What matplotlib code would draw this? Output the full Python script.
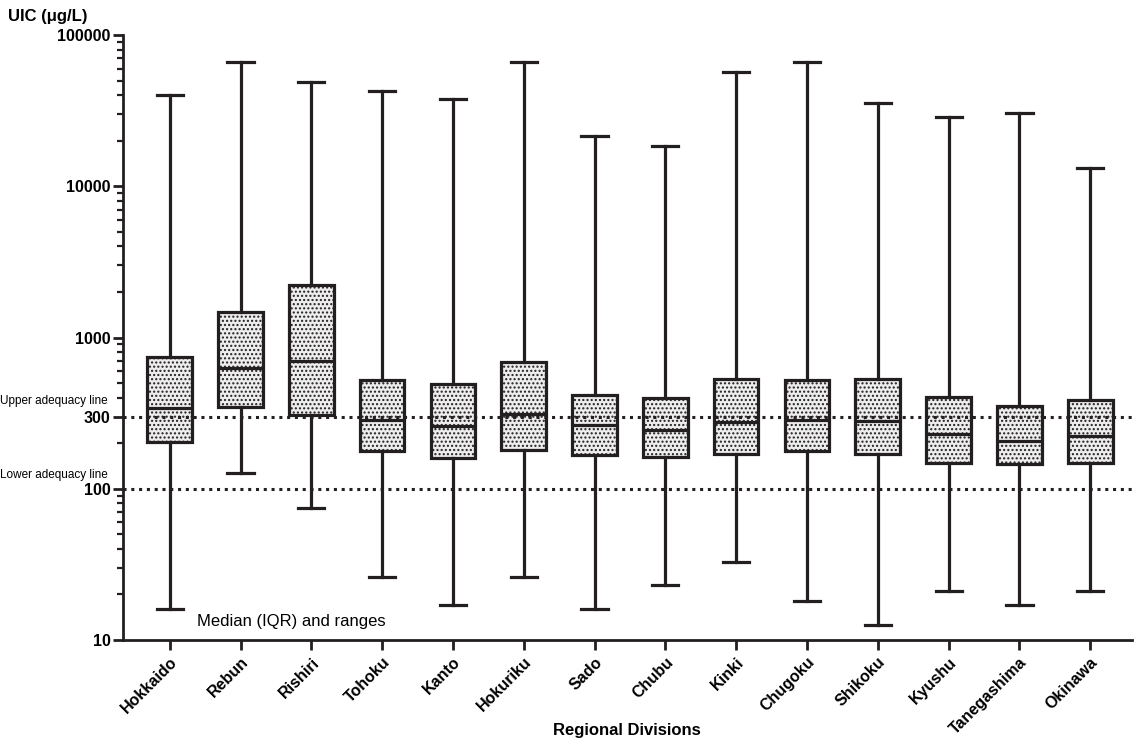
import matplotlib
matplotlib.use("Agg")
import matplotlib.pyplot as plt
from matplotlib.ticker import FixedLocator, LogLocator, NullFormatter, FixedFormatter

plt.rcParams['font.family'] = ['Liberation Sans', 'DejaVu Sans']
plt.rcParams['hatch.color'] = '#6e6e6e'
plt.rcParams['hatch.linewidth'] = 1.0

regions = ["Hokkaido", "Rebun", "Rishiri", "Tohoku", "Kanto", "Hokuriku", "Sado",
           "Chubu", "Kinki", "Chugoku", "Shikoku", "Kyushu", "Tanegashima", "Okinawa"]
minimum = [16, 127, 75, 26, 17, 26, 16, 23, 33, 18, 12.5, 21, 17, 21]
q1 = [203, 345, 306, 177, 160, 181, 168, 162, 171, 179, 171, 148, 145, 147]
median = [342, 630, 701, 286, 261, 311, 264, 246, 278, 285, 279, 231, 208, 222]
q3 = [745, 1480, 2210, 521, 496, 690, 417, 396, 530, 525, 533, 405, 355, 388]
maximum = [40100, 66800, 48800, 42400, 37700, 66800, 21400, 18400, 56900, 66200,
           35500, 28600, 30400, 13200]

upper_line = 300
lower_line = 100

fig = plt.figure(figsize=(11.44, 7.47), dpi=100)
ax = fig.add_axes([123/1144, 1-640/747, (1132-123)/1144, (640-35)/747])

stats = []
for i, name in enumerate(regions):
    stats.append(dict(label=name, med=median[i], q1=q1[i], q3=q3[i],
                      whislo=minimum[i], whishi=maximum[i], fliers=[]))

lw = 2.3
bp = ax.bxp(stats, positions=range(len(regions)), widths=0.63, capwidths=0.37,
            patch_artist=True, showfliers=False,
            boxprops=dict(linewidth=lw, edgecolor='#231f20', facecolor='#ededed', hatch='....'),
            whiskerprops=dict(linewidth=lw, color='#231f20'),
            capprops=dict(linewidth=lw, color='#231f20'),
            medianprops=dict(linewidth=lw, color='#231f20'))

ax.set_yscale('log')
ax.set_ylim(10, 100000)
ax.set_xlim(-0.66, 13.59)

for val in (upper_line, lower_line):
    ax.axhline(val, color='#231f20', linewidth=2.2, linestyle=(0, (1, 1.55)), zorder=5)

ax.yaxis.set_major_locator(FixedLocator([10, 100, 300, 1000, 10000, 100000]))
ax.yaxis.set_major_formatter(FixedFormatter(['10', '100', '300', '1000', '10000', '100000']))
ax.yaxis.set_minor_locator(LogLocator(base=10, subs=[2, 3, 4, 5, 6, 7, 8, 9]))
ax.yaxis.set_minor_formatter(NullFormatter())

for s in ('top', 'right'):
    ax.spines[s].set_visible(False)
for s in ('left', 'bottom'):
    ax.spines[s].set_linewidth(2.0)
    ax.spines[s].set_color('#231f20')

ax.tick_params(axis='both', which='major', length=7, width=2.0, color='#231f20',
               labelsize=11.5)
ax.tick_params(axis='y', which='major', pad=2)
ax.tick_params(axis='y', which='minor', length=4.5, width=1.6, color='#231f20')
ax.set_xticks(range(len(regions)))
ax.set_xticklabels(regions, rotation=45, ha='right', rotation_mode='anchor',
                   fontweight='bold', fontsize=11.5)
for t in ax.get_yticklabels():
    t.set_fontweight('bold')

fig.text(627/1144, 1-731/747, 'Regional Divisions', fontweight='bold', fontsize=12,
         ha='center', va='center')

fig.text(8/1144, 1-17/747, 'UIC (μg/L)', fontweight='bold', fontsize=12,
         ha='left', va='center')
fig.text(0.5/1144, 1-401/747, 'Upper adequacy line', fontsize=8.5, ha='left', va='center')
fig.text(0.5/1144, 1-475/747, 'Lower adequacy line', fontsize=8.5, ha='left', va='center')
ax.text(0.38, 13.2, 'Median (IQR) and ranges', fontsize=12, ha='left', va='center')

fig.savefig('out.png', dpi=100)
